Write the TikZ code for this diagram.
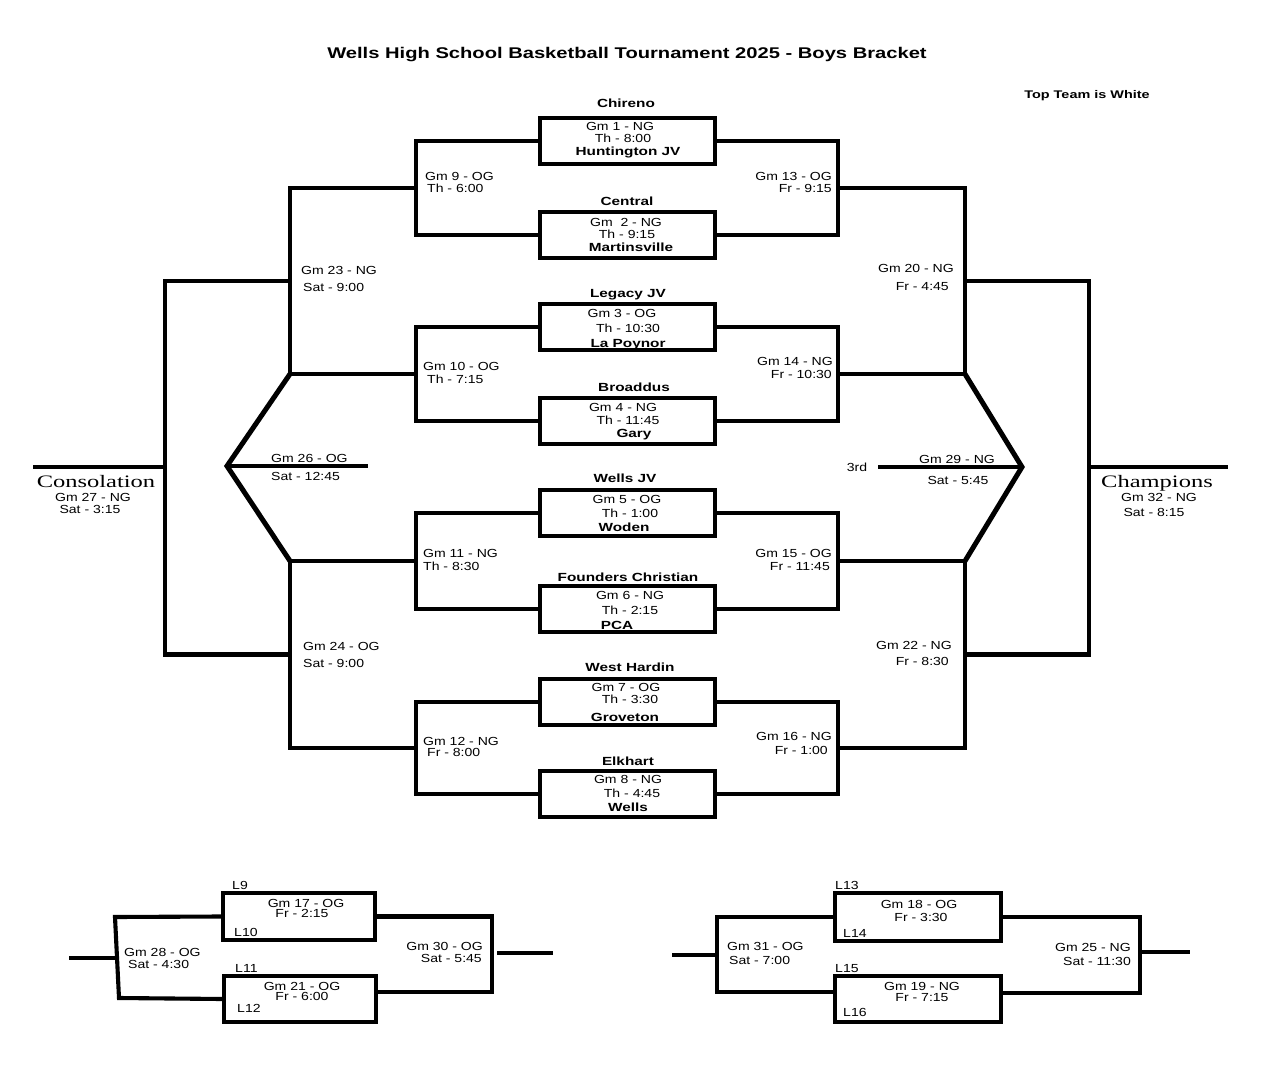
\documentclass[tikz,border=0pt]{standalone}
\usepackage{fontspec}
\setmainfont{Liberation Sans}
\newfontfamily\reg{Liberation Sans}[FakeStretch=1.2]
\newfontfamily\bld{Liberation Sans}[FakeStretch=1.3]
\newfontfamily\ser{Liberation Serif}[FakeStretch=1.4]
\begin{document}
\begin{tikzpicture}[x=1pt,y=-1pt,
  br/.style={line width=4.1pt, line join=miter},
  diag/.style={line width=5pt, line join=miter},
  thinl/.style={line width=3.4pt},
  gbox/.style={draw, line width=4pt, rectangle, inner sep=0pt, minimum width=175pt, minimum height=46pt},
  t/.style={font=\reg\fontsize{11.7}{13}\selectfont, inner sep=0pt, anchor=base},
  tl/.style={t, anchor=base west},
  tr/.style={t, anchor=base east},
  tb/.style={font=\bld\bfseries\fontsize{11.8}{13}\selectfont, inner sep=0pt, anchor=base},
  big/.style={font=\ser\fontsize{17.5}{20}\selectfont, inner sep=0pt, anchor=base}]
\fill[white] (0,0) rectangle (1275,1089);
\useasboundingbox (0,0) rectangle (1275,1089);

% title
\node[font=\bld\bfseries\fontsize{15.5}{18}\selectfont, inner sep=0pt, anchor=base] (title) at (627,58.5) {Wells High School Basketball Tournament 2025 - Boys Bracket};
\node[font=\bld\bfseries\fontsize{11.1}{13}\selectfont, inner sep=0pt, anchor=base] (topteam) at (1087,99) {Top Team is White};

% first-round boxes
\node[gbox] (b1) at (627.5,141) {};
\node[gbox] (b2) at (627.5,235) {};
\node[gbox] (b3) at (627.5,327) {};
\node[gbox] (b4) at (627.5,421) {};
\node[gbox] (b5) at (627.5,513) {};
\node[gbox] (b6) at (627.5,609) {};
\node[gbox] (b7) at (627.5,702) {};
\node[gbox] (b8) at (627.5,794) {};

% coordinates
\coordinate (L1) at (416,188);
\coordinate (L2) at (416,374);
\coordinate (L3) at (416,561);
\coordinate (L4) at (416,748);
\coordinate (L23) at (290,281);
\coordinate (L24) at (290,654.5);
\coordinate (LC) at (165,467);
\coordinate (cons) at (33,467);
\coordinate (R1) at (838,188);
\coordinate (R2) at (838,374);
\coordinate (R3) at (838,561);
\coordinate (R4) at (838,748);
\coordinate (R23) at (965,281);
\coordinate (R24) at (965,654.5);
\coordinate (RC) at (1089,467);
\coordinate (champ) at (1228,467);
\coordinate (DL1) at (290,374);
\coordinate (DLA) at (227,466);
\coordinate (DL2) at (290,561);
\coordinate (G26) at (368,466);
\coordinate (DR1) at (965,374);
\coordinate (DRA) at (1022,467);
\coordinate (DR2) at (965,561);
\coordinate (G29) at (878,467);

% left brackets
\draw[br] (b1.west) -| (L1) |- (b2.west);
\draw[br] (b3.west) -| (L2) |- (b4.west);
\draw[br] (b5.west) -| (L3) |- (b6.west);
\draw[br] (b7.west) -| (L4) |- (b8.west);
\draw[br] (L1) -| (L23) |- (L2);
\draw[br] (L3) -| (L24) |- (L4);
\draw[br] (L23) -| (LC) |- (L24);
\draw[br] (LC) -- (cons);
% right brackets
\draw[br] (b1.east) -| (R1) |- (b2.east);
\draw[br] (b3.east) -| (R2) |- (b4.east);
\draw[br] (b5.east) -| (R3) |- (b6.east);
\draw[br] (b7.east) -| (R4) |- (b8.east);
\draw[br] (R1) -| (R23) |- (R2);
\draw[br] (R3) -| (R24) |- (R4);
\draw[br] (R23) -| (RC) |- (R24);
\draw[br] (RC) -- (champ);
% third-place diamonds
\draw[diag] (DL1) -- (DLA) -- (DL2);
\draw[thinl] (DLA) -- (G26);
\draw[diag] (DR1) -- (DRA) -- (DR2);
\draw[thinl] (G29) -- (DRA);

% box texts
\node[tb] (n1) at (626,108) {Chireno};
\node[t] (g1) at (620,131) {Gm 1 - NG};
\node[t] (h1) at (623,143) {Th - 8:00};
\node[tb] (m1) at (628,156) {Huntington JV};

\node[tb] (n2) at (627,205) {Central};
\node[t] (g2) at (626,226) {Gm\ \ 2 - NG};
\node[t] (h2) at (627,238) {Th - 9:15};
\node[tb] (m2) at (631,251) {Martinsville};

\node[tb] (n3) at (628,297) {Legacy JV};
\node[t] (g3) at (622,317) {Gm 3 - OG};
\node[t] (h3) at (628,332) {Th - 10:30};
\node[tb] (m3) at (628,347) {La Poynor};

\node[tb] (n4) at (634,391) {Broaddus};
\node[t] (g4) at (623,411) {Gm 4 - NG};
\node[t] (h4) at (628,424) {Th - 11:45};
\node[tb] (m4) at (634,437) {Gary};

\node[tb] (n5) at (625,482) {Wells JV};
\node[t] (g5) at (627,503) {Gm 5 - OG};
\node[t] (h5) at (630,517) {Th - 1:00};
\node[tb] (m5) at (624,531) {Woden};

\node[tb] (n6) at (628,581) {Founders Christian};
\node[t] (g6) at (630,599) {Gm 6 - NG};
\node[t] (h6) at (630,614) {Th - 2:15};
\node[tb] (m6) at (617,629) {PCA};

\node[tb] (n7) at (630,671) {West Hardin};
\node[t] (g7) at (626,691) {Gm 7 - OG};
\node[t] (h7) at (630,703) {Th - 3:30};
\node[tb] (m7) at (625,721) {Groveton};

\node[tb] (n8) at (628,765) {Elkhart};
\node[t] (g8) at (628,783) {Gm 8 - NG};
\node[t] (h8) at (632,797) {Th - 4:45};
\node[tb] (m8) at (628,811) {Wells};

% second round labels
\node[tl] (g9) at (425,180) {Gm 9 - OG};
\node[tl] (h9) at (427,193) {Th - 6:00};
\node[tl] (g10) at (423,370) {Gm 10 - OG};
\node[tl] (h10) at (427,383) {Th - 7:15};
\node[tl] (g11) at (423,557) {Gm 11 - NG};
\node[tl] (h11) at (423,570) {Th - 8:30};
\node[tl] (g12) at (423,745) {Gm 12 - NG};
\node[tl] (h12) at (427,756) {Fr - 8:00};

\node[tr] (g13) at (832,180) {Gm 13 - OG};
\node[tr] (h13) at (832,193) {Fr - 9:15};
\node[tr] (g14) at (833,365) {Gm 14 - NG};
\node[tr] (h14) at (832,378) {Fr - 10:30};
\node[tr] (g15) at (832,557) {Gm 15 - OG};
\node[tr] (h15) at (830,570) {Fr - 11:45};
\node[tr] (g16) at (832,740) {Gm 16 - NG};
\node[tr] (h16) at (828,754) {Fr - 1:00};

\node[tl] (g23) at (301,274) {Gm 23 - NG};
\node[tl] (h23) at (303,291) {Sat - 9:00};
\node[tl] (g24) at (303,650) {Gm 24 - OG};
\node[tl] (h24) at (303,667) {Sat - 9:00};
\node[tr] (g20) at (954,272) {Gm 20 - NG};
\node[tr] (h20) at (949,290) {Fr - 4:45};
\node[tr] (g22) at (952,649) {Gm 22 - NG};
\node[tr] (h22) at (949,665) {Fr - 8:30};

\node[tl] (g26) at (271,462) {Gm 26 - OG};
\node[tl] (h26) at (271,480) {Sat - 12:45};
\node[t] (g29) at (957,463) {Gm 29 - NG};
\node[t] (h29) at (958,484) {Sat - 5:45};
\node[t] (third) at (857,471) {3rd};

\node[big] (consl) at (96,487) {Consolation};
\node[t] (g27) at (93,501) {Gm 27 - NG};
\node[t] (h27) at (90,513) {Sat - 3:15};
\node[big] (champl) at (1157,487) {Champions};
\node[t] (g32) at (1159,501) {Gm 32 - NG};
\node[t] (h32) at (1154,516) {Sat - 8:15};

% bottom-left consolation bracket
\node[gbox, minimum width=152pt, minimum height=47pt] (b17) at (299,916.5) {};
\node[gbox, minimum width=152pt, minimum height=46pt] (b21) at (300,999) {};
\coordinate (BL1) at (115,917);
\coordinate (BL2) at (119,998);
\coordinate (BLs) at (69,958);
\coordinate (BLm) at (117,958);
\coordinate (BR2) at (492,992);
\coordinate (BRs) at (497,953);
\coordinate (BRe) at (553,953);
\draw[br] (b17.west) -- (BL1) -- (BL2) -- (b21.west);
\draw[br] (BLs) -- (BLm);
\draw[br] (b17.east) -| (BR2) -- (b21.east |- BR2);
\draw[br] (BRs) -- (BRe);
\node[tl] (l9) at (232,889) {L9};
\node[t] (g17) at (306,907) {Gm 17 - OG};
\node[t] (h17) at (302,917) {Fr - 2:15};
\node[tl] (l10) at (234,936) {L10};
\node[tl] (g28) at (124,956) {Gm 28 - OG};
\node[tl] (h28) at (128,968) {Sat - 4:30};
\node[tl] (l11) at (235,972) {L11};
\node[t] (g21) at (302,990) {Gm 21 - OG};
\node[t] (h21) at (302,1000) {Fr - 6:00};
\node[tl] (l12) at (237,1012) {L12};
\node[tr] (g30) at (483,950) {Gm 30 - OG};
\node[tr] (h30) at (482,962) {Sat - 5:45};

% bottom-right bracket
\node[gbox, minimum width=166pt, minimum height=48pt] (b18) at (918,917) {};
\node[gbox, minimum width=166pt, minimum height=46pt] (b19) at (918,999) {};
\coordinate (CL2) at (717,992);
\coordinate (CLs) at (672,955);
\coordinate (CLm) at (717,955);
\coordinate (CR2) at (1140,993);
\coordinate (CRs) at (1140,952);
\coordinate (CRe) at (1190,952);
\draw[br] (b18.west) -| (CL2) -- (b19.west |- CL2);
\draw[br] (CLs) -- (CLm);
\draw[br] (b18.east) -| (CR2) -- (b19.east |- CR2);
\draw[br] (CRs) -- (CRe);
\node[tl] (l13) at (835,889) {L13};
\node[t] (g18) at (919,908) {Gm 18 - OG};
\node[t] (h18) at (921,921) {Fr - 3:30};
\node[tl] (l14) at (843,937) {L14};
\node[tl] (g31) at (727,950) {Gm 31 - OG};
\node[tl] (h31) at (729,964) {Sat - 7:00};
\node[tl] (l15) at (835,972) {L15};
\node[t] (g19) at (922,990) {Gm 19 - NG};
\node[t] (h19) at (922,1001) {Fr - 7:15};
\node[tl] (l16) at (843,1016) {L16};
\node[tr] (g25) at (1131,951) {Gm 25 - NG};
\node[tr] (h25) at (1131,965) {Sat - 11:30};
\end{tikzpicture}
\end{document}
